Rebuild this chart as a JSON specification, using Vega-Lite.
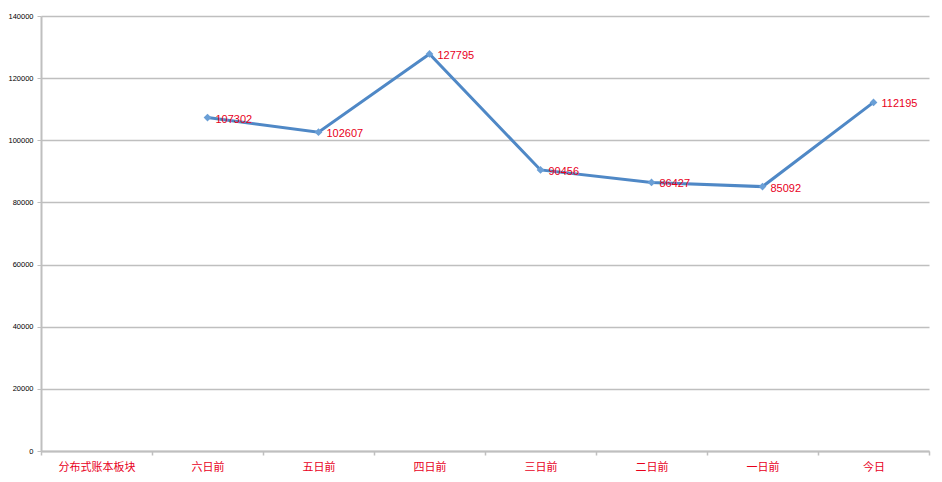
{
  "$schema": "https://vega.github.io/schema/vega-lite/v6.json",
  "autosize": {"type": "none"},
  "width": 888,
  "height": 435,
  "padding": {"left": 41, "top": 16, "right": 13, "bottom": 31},
  "background": "white",
  "config": {"view": {"stroke": null}},
  "data": {
    "values": [
      {"cat": "分布式账本板块", "value": null},
      {"cat": "六日前", "value": 107302},
      {"cat": "五日前", "value": 102607},
      {"cat": "四日前", "value": 127795},
      {"cat": "三日前", "value": 90456},
      {"cat": "二日前", "value": 86427},
      {"cat": "一日前", "value": 85092},
      {"cat": "今日", "value": 112195}
    ]
  },
  "encoding": {
    "x": {
      "field": "cat",
      "type": "nominal",
      "sort": null,
      "scale": {"domain": ["分布式账本板块", "六日前", "五日前", "四日前", "三日前", "二日前", "一日前", "今日"], "paddingInner": 0, "paddingOuter": 0},
      "axis": {
        "title": null,
        "labelAngle": 0,
        "labelColor": "#e8001c",
        "labelFont": "Noto Sans CJK SC",
        "labelFontSize": 11,
        "labelPadding": 6,
        "tickBand": "extent",
        "tickColor": "#bfbfbf",
        "tickSize": 4,
        "tickWidth": 1.5,
        "domainColor": "#bfbfbf",
        "domainWidth": 2,
        "grid": false
      }
    },
    "y": {
      "field": "value",
      "type": "quantitative",
      "scale": {"domain": [0, 140000], "nice": false},
      "axis": {
        "title": null,
        "values": [0, 20000, 40000, 60000, 80000, 100000, 120000, 140000],
        "format": "d",
        "labelFontSize": 7.5,
        "labelFont": "Liberation Sans",
        "labelColor": "#000000",
        "labelPadding": 4,
        "tickSize": 4,
        "tickColor": "#bfbfbf",
        "domainColor": "#bfbfbf",
        "domainWidth": 2,
        "gridColor": "#bfbfbf",
        "gridWidth": 1.5
      }
    }
  },
  "layer": [
    {
      "mark": {"type": "line", "color": "#4f88c6", "strokeWidth": 3},
      "transform": [{"filter": "datum.value != null"}]
    },
    {
      "mark": {"type": "point", "shape": "diamond", "filled": true, "color": "#6a9fd6", "size": 60, "opacity": 1},
      "transform": [{"filter": "datum.value != null"}]
    },
    {
      "mark": {"type": "text", "align": "left", "baseline": "middle", "dx": 8, "dy": 2, "color": "#e8001c", "fontSize": 11, "font": "Liberation Sans"},
      "transform": [{"filter": "datum.value != null"}],
      "encoding": {"text": {"field": "value", "type": "quantitative", "format": "d"}}
    }
  ]
}
